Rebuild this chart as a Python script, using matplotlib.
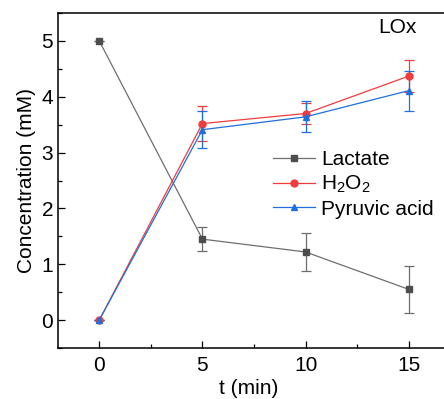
import matplotlib
matplotlib.use("Agg")
import matplotlib.pyplot as plt
from matplotlib.ticker import MultipleLocator

plt.rcParams['font.family'] = ['Liberation Sans', 'DejaVu Sans']
plt.rcParams['mathtext.default'] = 'regular'

t_min = [0, 5, 10, 15]

lactate = [5.0, 1.45, 1.22, 0.55]
lactate_err = [0.0, 0.22, 0.34, 0.42]

h2o2 = [0.0, 3.52, 3.70, 4.37]
h2o2_err = [0.0, 0.32, 0.19, 0.29]

pyruvic = [0.0, 3.41, 3.64, 4.11]
pyruvic_err = [0.0, 0.33, 0.28, 0.36]

series_names = ["Lactate", "H$_2$O$_2$", "Pyruvic acid"]

fig = plt.figure(figsize=(4.44, 3.99), dpi=100)
ax = fig.add_axes([58 / 444, 1 - 348 / 399, 392 / 444, 335 / 399])

styles = [
    (lactate, lactate_err, "s", "#4d4d4d", "#6e6e6e"),
    (h2o2, h2o2_err, "o", "#f03c3c", "#f03c3c"),
    (pyruvic, pyruvic_err, "^", "#1f6fe0", "#1f6fe0"),
]
handles = []
for (vals, errs, mk, mcol, lcol), name in zip(styles, series_names):
    cont = ax.errorbar(t_min, vals, yerr=errs, fmt=mk + "-", color=lcol,
                       mfc=mcol, mec=mcol, ms=5, lw=0.9, elinewidth=0.9,
                       capsize=3.5, capthick=0.9, label=name)
    handles.append(cont[0])

ax.set_xlim(-2, 17)
ax.set_ylim(-0.5, 5.5)
ax.xaxis.set_major_locator(MultipleLocator(5))
ax.xaxis.set_minor_locator(MultipleLocator(2.5))
ax.yaxis.set_major_locator(MultipleLocator(1))
ax.yaxis.set_minor_locator(MultipleLocator(0.5))
ax.tick_params(which="both", direction="in", top=False, right=False,
               labelsize=15, width=0.9)
ax.tick_params(which="major", length=5)
ax.tick_params(which="minor", length=3)
ax.tick_params(axis="x", pad=6)
for s in ax.spines.values():
    s.set_linewidth(1.1)

ax.set_xlabel("t (min)", fontsize=15)
ax.xaxis.set_label_coords((249 - 58) / 392, -0.092)
ax.set_ylabel("Concentration (mM)", fontsize=15, labelpad=4)

ax.text(14.47, 5.24, "LOx", fontsize=15, ha="center", va="center")

ax.legend(handles, series_names, loc="upper left",
          bbox_to_anchor=(0.528, 0.615), frameon=False,
          fontsize=15, handlelength=2.0, handletextpad=0.3,
          labelspacing=0.22, borderaxespad=0)

fig.savefig("out.png", dpi=100)
